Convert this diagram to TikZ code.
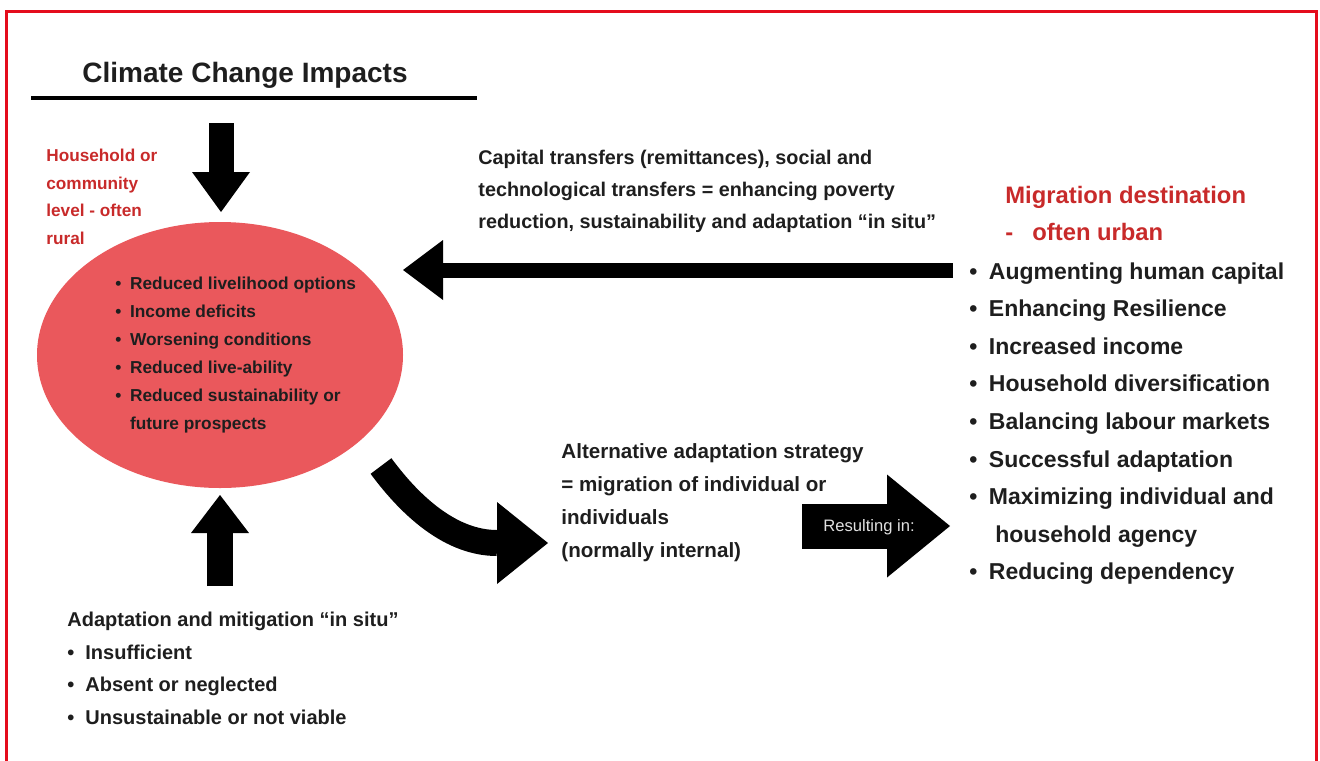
\documentclass[tikz,border=0pt]{standalone}
\usepackage{fontspec}
\setmainfont{Liberation Sans}
\usepackage{xcolor}
\usetikzlibrary{shapes.geometric}
\usetikzlibrary{arrows.meta}
\definecolor{framered}{RGB}{228,12,28}
\definecolor{ovalred}{RGB}{234,88,92}
\definecolor{labelred}{RGB}{200,42,42}
\definecolor{ink}{RGB}{30,30,30}
\newcommand{\bpoint}{\makebox[0.85em][l]{\textbullet}}
\tikzstyle{txt} = [inner sep=0pt, anchor=north west, align=left, text=ink]
\tikzstyle{pushdown} = [line width=12.5pt, -{Triangle[length=20pt, width=29pt, line width=0pt]}]
\tikzstyle{pushup} = [line width=13pt, -{Triangle[length=19pt, width=29pt, line width=0pt]}]
\tikzstyle{sendback} = [line width=7.5pt, -{Triangle[length=20pt, width=30pt, line width=0pt]}]
\tikzstyle{swerve} = [line width=13pt, -{Triangle[length=25.5pt, width=41pt, line width=0pt]}]
\tikzstyle{resultarrow} = [line width=22.5pt, -{Triangle[length=31.5pt, width=51.5pt, line width=0pt]}]

\begin{document}
\begin{tikzpicture}[x=0.5pt, y=-0.5pt]
        \useasboundingbox (0,0) rectangle (1320,760);
        \draw[framered, line width=1.5pt] (6,770) -- (6,11) -- (1316,11) -- (1316,770);

        % heading and the rule under it
        \node (title) [txt, font=\bfseries\fontsize{14pt}{16pt}\selectfont] at (82,62) {Climate Change Impacts};
        \coordinate (ruleL) at (31,98);
        \coordinate (ruleR) at (477,98);
        \draw[line width=2pt] (ruleL) -- (ruleR);

        \node (level) [txt, text=labelred, font=\bfseries\fontsize{8.6pt}{13.75pt}\selectfont] at (46,149) {Household or\\community\\level - often\\rural};

        % the household oval
        \node (oval) [ellipse, fill=ovalred, minimum width=183pt, minimum height=133pt] at (220,355) {};
        \node (impacts) [txt, font=\bfseries\fontsize{8.65pt}{14pt}\selectfont] at (115,277) {\bpoint Reduced livelihood options\\\bpoint Income deficits\\\bpoint Worsening conditions\\\bpoint Reduced live-ability\\\bpoint Reduced sustainability or\\\hspace*{0.85em}future prospects};

        \node (transfers) [txt, font=\bfseries\fontsize{9.9pt}{16pt}\selectfont] at (478,150) {Capital transfers (remittances), social and\\technological transfers = enhancing poverty\\reduction, sustainability and adaptation “in situ"};

        \node (dest) [txt, text=labelred, font=\bfseries\fontsize{11.9pt}{18.5pt}\selectfont] at (1005,186) {Migration destination\\-\hspace{0.8em}often urban};
        \node (gains) [txt, font=\bfseries\fontsize{11.5pt}{18.8pt}\selectfont] at (969,262) {\bpoint Augmenting human capital\\\bpoint Enhancing Resilience\\\bpoint Increased income\\\bpoint Household diversification\\\bpoint Balancing labour markets\\\bpoint Successful adaptation\\\bpoint Maximizing individual and\\\hspace*{0.85em} household agency\\\bpoint Reducing dependency};

        \node (strategy) [txt, font=\bfseries\fontsize{10.3pt}{16.5pt}\selectfont] at (561,443) {Alternative adaptation strategy\\= migration of individual or\\individuals\\(normally internal)};

        \node (insitu) [txt, font=\bfseries\fontsize{10pt}{16.25pt}\selectfont] at (67,612) {Adaptation and mitigation “in situ"\\\makebox[0.9em][l]{\textbullet}Insufficient\\\makebox[0.9em][l]{\textbullet}Absent or neglected\\\makebox[0.9em][l]{\textbullet}Unsustainable or not viable};

        % block arrows
        \coordinate (impactsOut) at (221,123);
        \coordinate (ovalIn) at (221,212);
        \coordinate (insituOut) at (220,586);
        \coordinate (ovalUnder) at (220,495);
        \coordinate (backStart) at (953,270);
        \coordinate (backTip) at (403,270);
        \coordinate (swerveStart) at (381,466);
        \coordinate (swerveTip) at (548,543);
        \coordinate (resultStart) at (802,526);
        \coordinate (resultTip) at (950,526);

        \draw [pushdown] (impactsOut) -- (ovalIn);
        \draw [pushup] (insituOut) -- (ovalUnder);
        \draw [sendback] (backStart) -- (backTip);
        \draw [swerve] (swerveStart) .. controls (412,508) and (452,543) .. (497,543) -- (swerveTip);
        \draw [resultarrow] (resultStart) -- (resultTip);
        \node (resulting) [text=black!12, font=\fontsize{8.3pt}{10pt}\selectfont, inner sep=0pt] at (869,527) {Resulting in:};
\end{tikzpicture}
\end{document}
